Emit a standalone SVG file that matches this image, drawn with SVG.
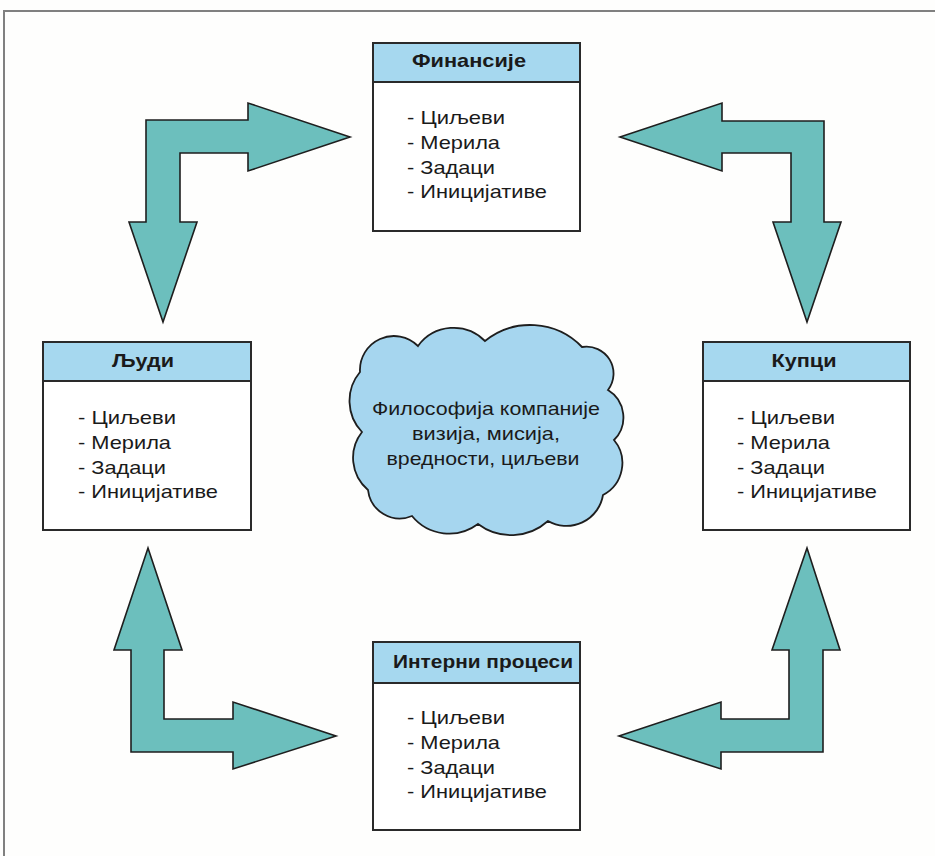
<svg xmlns="http://www.w3.org/2000/svg" width="935" height="856" viewBox="0 0 935 856">
  <style>
    .frame { fill: none; stroke: #808080; stroke-width: 2; }
    .box { fill: #ffffff; stroke: #2a2a2a; stroke-width: 2; }
    .head { fill: #a6d8ef; stroke: #2a2a2a; stroke-width: 2; }
    .title { font-family: "Liberation Sans", Arial, sans-serif; font-size: 18.5px; font-weight: bold; fill: #1a1a1a; text-anchor: middle; }
    .item { font-family: "Liberation Sans", Arial, sans-serif; font-size: 18.5px; fill: #1a1a1a; }
    .arrow { fill: #6cbfbd; stroke: #1e1e1e; stroke-width: 1.6; stroke-linejoin: miter; }
    .cloud { fill: #a6d6ef; stroke: #1e1e1e; stroke-width: 1.8; }
    .ctext { font-family: "Liberation Sans", Arial, sans-serif; font-size: 18.5px; fill: #1a1a1a; text-anchor: middle; }
  </style>

  <defs>
    <!-- the four-line list shared by every perspective box -->
    <g id="list">
      <text class="item" x="0" y="0" textLength="98" lengthAdjust="spacingAndGlyphs">- Циљеви</text>
      <text class="item" x="0" y="25" textLength="93" lengthAdjust="spacingAndGlyphs">- Мерила</text>
      <text class="item" x="0" y="49.5" textLength="88" lengthAdjust="spacingAndGlyphs">- Задаци</text>
      <text class="item" x="0" y="74" textLength="140" lengthAdjust="spacingAndGlyphs">- Иницијативе</text>
    </g>
  </defs>

  <rect width="935" height="856" fill="#fefefd"/>
  <path class="frame" d="M4,856 V11 H935"/>

  <!-- L-shaped arrows linking the four perspectives -->
  <g id="connectors">
    <path class="arrow" d="M146,120 H248 V103 L350,137 L248,171 V153 H180 V222 H197 L163,322 L129,222 H146 Z"/>
    <path class="arrow" d="M824,121 H722 V103 L620,137 L722,171 V153 H791 V222 H773 L807,322 L841,222 H824 Z"/>
    <path class="arrow" d="M131,752 V650 H114 L148,548 L182,650 H164 V719 H233 V702 L336,736 L233,769 V752 Z"/>
    <path class="arrow" d="M823,752 V650 H840 L807,548 L772,650 H789 V719 H721 V702 L619,736 L721,769 V752 Z"/>
  </g>

  <g id="finansije">
    <rect class="box" x="373" y="43" width="207" height="188"/>
    <rect class="head" x="373" y="43" width="207" height="39"/>
    <text class="title" x="469" y="67" textLength="114" lengthAdjust="spacingAndGlyphs">Финансије</text>
    <use href="#list" x="407" y="124"/>
  </g>

  <g id="ljudi">
    <rect class="box" x="43" y="342" width="208" height="188"/>
    <rect class="head" x="43" y="342" width="208" height="39"/>
    <text class="title" x="143" y="367" textLength="62" lengthAdjust="spacingAndGlyphs">Људи</text>
    <use href="#list" x="78" y="424"/>
  </g>

  <g id="kupci">
    <rect class="box" x="703" y="342" width="207" height="188"/>
    <rect class="head" x="703" y="342" width="207" height="39"/>
    <text class="title" x="804" y="367" textLength="65" lengthAdjust="spacingAndGlyphs">Купци</text>
    <use href="#list" x="737" y="424"/>
  </g>

  <g id="interni-procesi">
    <rect class="box" x="373" y="642" width="207" height="188"/>
    <rect class="head" x="373" y="642" width="207" height="41"/>
    <text class="title" x="483" y="668" textLength="180" lengthAdjust="spacingAndGlyphs">Интерни процеси</text>
    <use href="#list" x="407" y="724"/>
  </g>

  <g id="filozofija">
    <path class="cloud" d="M360,372
      A34,34 0 0 1 418,346
      A44,44 0 0 1 485,341
      A72,72 0 0 1 582,347
      A27,27 0 0 1 608,390
      A32,32 0 0 1 614,440
      A36,36 0 0 1 603,495
      A37,37 0 0 1 548,521
      A55,55 0 0 1 478,524
      A48,48 0 0 1 412,516
      A32,32 0 0 1 368,490
      A42,42 0 0 1 362,432
      A45,45 0 0 1 360,372 Z"/>
    <text class="ctext" x="486" y="415" textLength="228" lengthAdjust="spacingAndGlyphs">Философија компаније</text>
    <text class="ctext" x="486" y="440" textLength="148" lengthAdjust="spacingAndGlyphs">визија, мисија,</text>
    <text class="ctext" x="483" y="465" textLength="193" lengthAdjust="spacingAndGlyphs">вредности, циљеви</text>
  </g>
</svg>
